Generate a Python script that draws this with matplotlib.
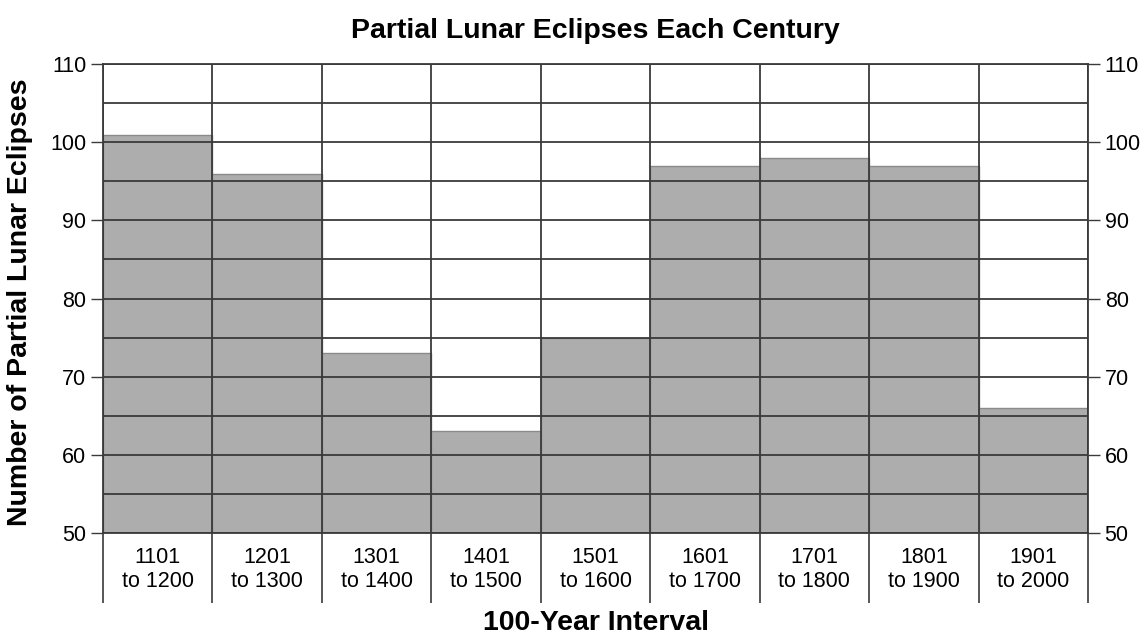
import numpy as np
import matplotlib.pyplot as plt

# data
intervals = ["1101\nto 1200", "1201\nto 1300", "1301\nto 1400", "1401\nto 1500",
             "1501\nto 1600", "1601\nto 1700", "1701\nto 1800", "1801\nto 1900",
             "1901\nto 2000"]
eclipses = [101, 96, 73, 63, 75, 97, 98, 97, 66]

plt.rcParams['font.family'] = ['Liberation Sans', 'DejaVu Sans']
line_col = '#3a3a3a'

fig = plt.figure(figsize=(11.45, 6.35), dpi=100)
ax = fig.add_axes([0.0900, 0.1611, 0.8602, 0.7376])

x = np.arange(len(eclipses))
ax.bar(x, np.array(eclipses) - 50, bottom=50, width=1.0, color='#adadad',
       edgecolor='#8a8a8a', linewidth=1, zorder=1)

ax.set_xlim(-0.5, len(eclipses) - 0.5)
ax.set_ylim(50, 110)

# y ticks both sides, grid every 5
ax.set_yticks(np.arange(50, 111, 10))
ax.set_yticks(np.arange(50, 111, 5), minor=True)
ax.tick_params(axis='y', which='major', left=True, right=True, labelleft=True,
               labelright=True, length=8.5, width=1, color=line_col,
               labelsize=15.5, pad=3.5)
ax.tick_params(axis='y', which='minor', length=0)

# x: category labels at centres, long separators at the bar boundaries
ax.set_xticks(x)
ax.set_xticklabels(intervals)
ax.set_xticks(np.arange(-0.5, len(eclipses)), minor=True)
ax.tick_params(axis='x', which='major', length=0, labelsize=15.5, pad=10.5)
ax.tick_params(axis='x', which='minor', length=50.5, width=1.2, color=line_col,
               direction='out')

ax.yaxis.grid(True, which='both', color=line_col, linewidth=1.3, zorder=2)
ax.xaxis.grid(True, which='minor', color=line_col, linewidth=1.3, zorder=2)
ax.set_axisbelow(False)

for s in ax.spines.values():
    s.set_color(line_col)
    s.set_linewidth(1.3)

ax.set_title("Partial Lunar Eclipses Each Century", fontsize=20.5,
             fontweight='bold', pad=19)
ax.set_ylabel("Number of Partial Lunar Eclipses", fontsize=20.5,
              fontweight='bold')
ax.yaxis.set_label_coords(-0.071, 0.4925)
ax.set_xlabel("100-Year Interval", fontsize=20.5, fontweight='bold')
ax.xaxis.set_label_coords(0.5, -0.166)

fig.savefig("out.png", dpi=100)
